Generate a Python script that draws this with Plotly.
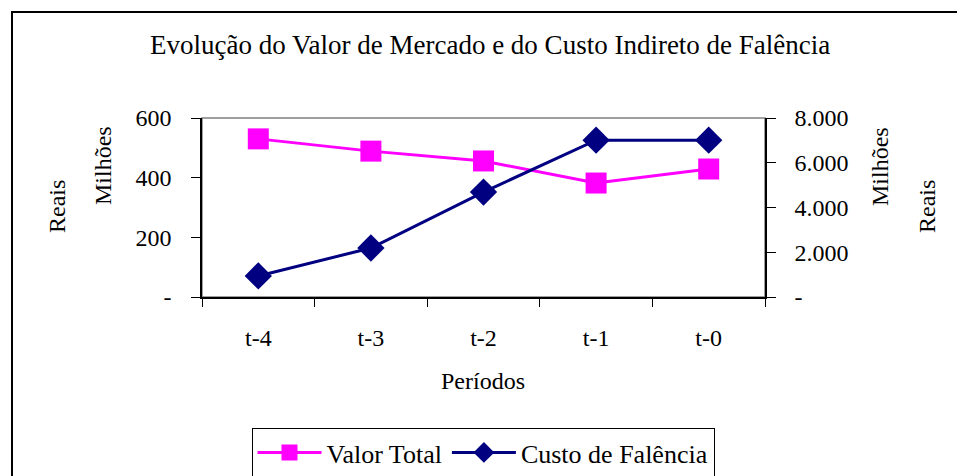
import plotly.graph_objects as go

# dados
periodos = ['t-4', 't-3', 't-2', 't-1', 't-0']
valor_total = [530, 489, 456, 382, 429]          # eixo esquerdo (milhões)
custo_falencia = [940, 2190, 4690, 7010, 7010]   # eixo direito (milhões)

left_ticks = [0, 200, 400, 600]
left_labels = ['-', '200', '400', '600']
right_ticks = [0, 2000, 4000, 6000, 8000]
right_labels = ['-', '2.000', '4.000', '6.000', '8.000']

FONT = 'Liberation Serif'
OFF = 8  # margem padrão do body da página
W, H = 965 - OFF, 476 - OFF
L, R, T, B = 202 - OFF, 765 - OFF, 118 - OFF, 297 - OFF


def px_x(x):
    return (x - OFF - L) / (R - L)


def px_y(y):
    return (B - (y - OFF)) / (B - T)


fig = go.Figure()
fig.add_trace(go.Scatter(
    x=periodos, y=valor_total, name='Valor Total', mode='lines+markers',
    line=dict(color='#FF00FF', width=3),
    marker=dict(symbol='square', size=21, color='#FF00FF'),
    yaxis='y'))
fig.add_trace(go.Scatter(
    x=periodos, y=custo_falencia, name='Custo de Falência', mode='lines+markers',
    line=dict(color='#000080', width=3),
    marker=dict(symbol='diamond', size=21, color='#000080'),
    yaxis='y2'))

fig.update_layout(
    width=W, height=H,
    margin=dict(l=L, r=W - R, t=T, b=H - B, autoexpand=False),
    paper_bgcolor='white', plot_bgcolor='white',
    font=dict(family=FONT, size=24, color='black'),
    showlegend=True,
    legend=dict(orientation='h', x=px_x(483), xanchor='center',
                y=px_y(428), yanchor='top',
                bordercolor='black', borderwidth=1,
                font=dict(size=26), itemwidth=64,
                tracegroupgap=0),
    xaxis=dict(range=[-0.5, 4.5], showgrid=False, showline=True,
               linecolor='black', linewidth=1.5,
               ticks='outside', ticklen=8, tickcolor='black', tickson='boundaries',
               tickfont=dict(size=24), zeroline=False, ticklabelstandoff=18),
    yaxis=dict(range=[0, 600], tickvals=left_ticks, ticktext=left_labels,
               showgrid=False, showline=True, linecolor='black', linewidth=1.5,
               ticks='outside', ticklen=9, tickcolor='black', zeroline=False,
               ticklabelstandoff=15),
    yaxis2=dict(range=[0, 8000], tickvals=right_ticks, ticktext=right_labels,
                overlaying='y', side='right',
                showgrid=False, showline=True, linecolor='black', linewidth=1.5,
                ticks='outside', ticklen=9, tickcolor='black', zeroline=False,
                ticklabelstandoff=14),
)

# moldura cinza da área do gráfico e borda externa
fig.add_shape(type='rect', xref='paper', yref='paper', x0=0, x1=1, y0=0, y1=1,
              line=dict(color='#808080', width=1.5), layer='below')
fig.add_shape(type='rect', xref='paper', yref='paper',
              x0=px_x(12), x1=px_x(990), y0=px_y(500), y1=px_y(12),
              line=dict(color='black', width=2))

notes = [
    ('Evolução do Valor de Mercado e do Custo Indireto de Falência', 490, 45, 0, 27),
    ('Períodos', 483, 381, 0, 24),
    ('Reais', 57, 207, -90, 24),
    ('Milhões', 103, 166, -90, 24),
    ('Milhões', 880, 167, -90, 24),
    ('Reais', 927, 207, -90, 24),
]
for text, x, y, ang, size in notes:
    fig.add_annotation(text=text, xref='paper', yref='paper', x=px_x(x), y=px_y(y),
                       xanchor='center', yanchor='middle', textangle=ang,
                       showarrow=False, font=dict(family=FONT, size=size))

fig.write_html('out.html')
